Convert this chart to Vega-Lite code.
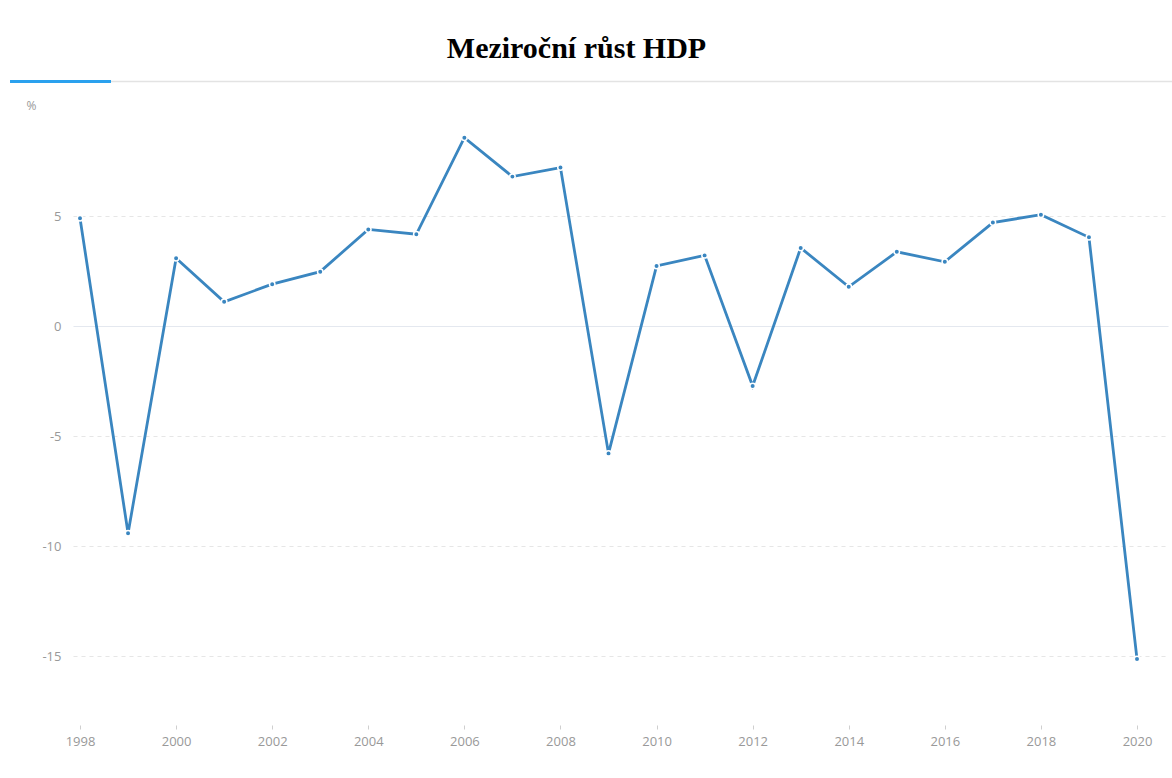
{
  "$schema": "https://vega.github.io/schema/vega-lite/v6.json",
  "width": 1095,
  "height": 616,
  "autosize": {"type": "none"},
  "padding": {"left": 73, "top": 106, "right": 4, "bottom": 56},
  "background": "white",
  "config": {"view": {"stroke": null}, "font": "Open Sans"},
  "title": {
    "text": "Meziroční růst HDP",
    "font": "Liberation Serif",
    "fontSize": 30,
    "fontWeight": "bold",
    "color": "#000000",
    "anchor": "middle",
    "frame": "group",
    "dx": -44,
    "offset": 16
  },
  "datasets": {
    "gdp": [
      {"year": 1998, "growth": 4.9},
      {"year": 1999, "growth": -9.42},
      {"year": 2000, "growth": 3.08},
      {"year": 2001, "growth": 1.1},
      {"year": 2002, "growth": 1.9},
      {"year": 2003, "growth": 2.47},
      {"year": 2004, "growth": 4.39},
      {"year": 2005, "growth": 4.17},
      {"year": 2006, "growth": 8.56},
      {"year": 2007, "growth": 6.79},
      {"year": 2008, "growth": 7.2},
      {"year": 2009, "growth": -5.79},
      {"year": 2010, "growth": 2.73},
      {"year": 2011, "growth": 3.21},
      {"year": 2012, "growth": -2.73},
      {"year": 2013, "growth": 3.55},
      {"year": 2014, "growth": 1.78},
      {"year": 2015, "growth": 3.37},
      {"year": 2016, "growth": 2.92},
      {"year": 2017, "growth": 4.7},
      {"year": 2018, "growth": 5.06},
      {"year": 2019, "growth": 4.03},
      {"year": 2020, "growth": -15.14}
    ],
    "header": [
      {"x1": 1996.543, "x2": 2020.728, "y": 11.11, "part": "base"},
      {"x1": 1996.543, "x2": 1998.645, "y": 11.11, "part": "accent"}
    ]
  },
  "layer": [
    {
      "data": {"name": "header"},
      "mark": {"type": "rule", "clip": false},
      "encoding": {
        "x": {"field": "x1", "type": "quantitative", "scale": {"domain": [1997.854, 2020.645], "nice": false, "zero": false}},
        "x2": {"field": "x2"},
        "y": {"field": "y", "type": "quantitative", "scale": {"domain": [-18, 10], "nice": false, "zero": false}},
        "color": {"field": "part", "type": "nominal", "scale": {"domain": ["base", "accent"], "range": ["#e3e3e3", "#2aa1ee"]}, "legend": null},
        "strokeWidth": {"field": "part", "type": "nominal", "scale": {"domain": ["base", "accent"], "range": [1.5, 3]}, "legend": null},
        "order": {"field": "part", "sort": "descending"}
      }
    },
    {
      "data": {"name": "gdp"},
      "mark": {
        "type": "line",
        "color": "#3a86c0",
        "strokeWidth": 2.8,
        "clip": false,
        "point": {"filled": true, "size": 30, "color": "#3a86c0", "stroke": "white", "strokeWidth": 1.5}
      },
      "encoding": {
        "x": {
          "field": "year",
          "type": "quantitative",
          "scale": {"domain": [1997.854, 2020.645], "nice": false, "zero": false},
          "axis": {
            "title": null,
            "values": [1998, 2000, 2002, 2004, 2006, 2008, 2010, 2012, 2014, 2016, 2018, 2020],
            "labelExpr": "datum.value + ''",
            "domain": false,
            "grid": false,
            "ticks": true,
            "tickSize": 4,
            "tickColor": "#cfcfcf",
            "offset": 3,
            "labelPadding": 6,
            "labelFont": "Open Sans",
            "labelFontSize": 13,
            "labelColor": "#999999",
            "labelFlush": false
          }
        },
        "y": {
          "field": "growth",
          "type": "quantitative",
          "scale": {"domain": [-18, 10], "nice": false, "zero": false},
          "axis": {
            "title": "%",
            "titleAngle": 0,
            "titleAlign": "left",
            "titleBaseline": "middle",
            "titleX": -47,
            "titleY": -1,
            "titleFont": "Open Sans",
            "titleFontSize": 12,
            "titleFontWeight": "normal",
            "titleColor": "#999999",
            "values": [-15, -10, -5, 0, 5],
            "labelExpr": "datum.value + ''",
            "domain": false,
            "ticks": false,
            "labelPadding": 12,
            "labelFont": "Open Sans",
            "labelFontSize": 13,
            "labelColor": "#999999",
            "grid": true,
            "gridColor": {"condition": {"test": "datum.value === 0", "value": "#e4e8ef"}, "value": "#e6e6e6"},
            "gridDash": {"condition": {"test": "datum.value === 0", "value": []}, "value": [4, 4]},
            "gridWidth": 1.2
          }
        }
      }
    }
  ]
}
